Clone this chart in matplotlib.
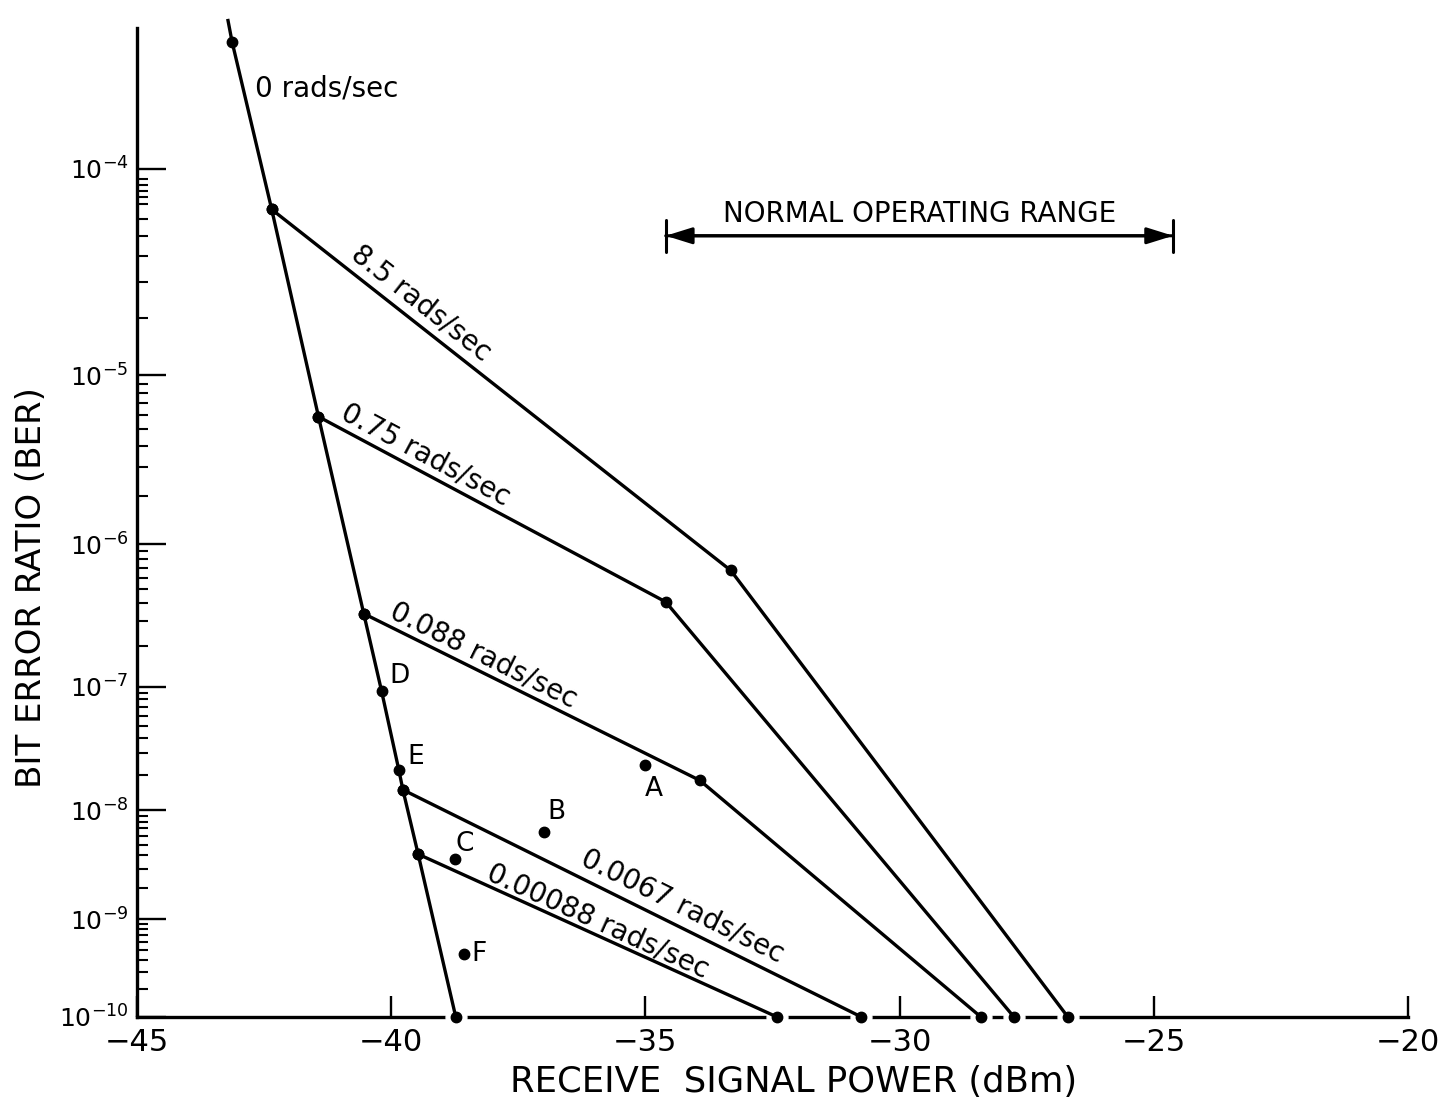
import numpy as np
import matplotlib
matplotlib.use("Agg")
import matplotlib.pyplot as plt
from matplotlib.ticker import FixedLocator, FixedFormatter, NullLocator, NullFormatter

plt.rcParams["font.family"] = ["DejaVu Sans"]
plt.rcParams["mathtext.fontset"] = "dejavusans"

# Zero pointing-error rate; the first entry only carries the line past the top point
zero_dbm = [-43.21, -43.13, -42.35, -41.43, -40.54, -40.19, -39.85, -39.77, -39.47, -38.73]
zero_ber = [3.9e-4, 3.25e-4, 6.6e-5, 5.9e-6, 3.4e-7, 9.3e-8, 2.2e-8, 1.5e-8, 4.1e-9, 1e-10]

# Curves for each pointing-error rate
rate_85_dbm = [-42.35, -33.32, -26.69]
rate_85_ber = [6.6e-5, 6.7e-7, 1e-10]
rate_075_dbm = [-41.43, -34.60, -27.75]
rate_075_ber = [5.9e-6, 4.1e-7, 1e-10]
rate_0088_dbm = [-40.54, -33.93, -28.40]
rate_0088_ber = [3.4e-7, 1.8e-8, 1e-10]
rate_00067_dbm = [-39.77, -30.75]
rate_00067_ber = [1.5e-8, 1e-10]
rate_000088_dbm = [-39.47, -32.41]
rate_000088_ber = [4.1e-9, 1e-10]

rate_labels = ["8.5 rads/sec", "0.75 rads/sec", "0.088 rads/sec",
               "0.0067 rads/sec", "0.00088 rads/sec"]
zero_label = "0 rads/sec"

# Individual measurements
point_names = ["A", "B", "C", "F"]
point_dbm = [-35.0, -37.0, -38.75, -38.57]
point_ber = [2.4e-8, 6.5e-9, 3.7e-9, 4.6e-10]

# D and E sit on the zero-rate curve (indices into zero_dbm)
zero_point_index = [5, 6]
zero_point_names = ["D", "E"]

range_dbm = [-34.6, -24.62]
range_ber = 5e-5
range_label = "NORMAL OPERATING RANGE"

x_ticks = [-45, -40, -35, -30, -25, -20]
y_exponents = [4, 5, 6, 7, 8, 9, 10]


def ber_forward(y):
    y = np.clip(np.asarray(y, dtype=float), 1e-300, 0.5)
    return -np.log10(-np.log10(y))


def ber_inverse(v):
    v = np.asarray(v, dtype=float)
    return 10.0 ** (-(10.0 ** (-v)))


W, H = 1441, 1111
fig = plt.figure(figsize=(W / 100, H / 100), dpi=100)
ax = fig.add_axes([137 / W, 1 - 1017 / H, (1408 - 137) / W, (1017 - 28) / H])

ax.set_yscale("function", functions=(ber_forward, ber_inverse))
ax.set_xlim(-45, -20)
ax.set_ylim(1e-10, 3.66e-4)

for s in ("top", "right"):
    ax.spines[s].set_visible(False)
for s in ("left", "bottom"):
    ax.spines[s].set_linewidth(2.4)

ax.xaxis.set_major_locator(FixedLocator(x_ticks))
ax.xaxis.set_major_formatter(FixedFormatter([f"\u2212{abs(v)}" for v in x_ticks]))
ax.xaxis.set_minor_locator(NullLocator())

ax.yaxis.set_major_locator(FixedLocator([10.0 ** -e for e in y_exponents]))
ax.yaxis.set_major_formatter(FixedFormatter([rf"$10^{{-{e}}}$" for e in y_exponents]))
minor = [m * 10.0 ** -e for e in y_exponents[1:] for m in range(2, 10)]
minor += [7.5e-5, 8.5e-5]
ax.yaxis.set_minor_locator(FixedLocator(sorted(minor)))
ax.yaxis.set_minor_formatter(NullFormatter())

ax.tick_params(axis="y", which="major", direction="in", length=21, width=1.7,
               labelsize=18, pad=6)
ax.tick_params(axis="y", which="minor", direction="in", length=8, width=1.5)
ax.tick_params(axis="x", which="major", direction="in", length=15, width=1.7,
               labelsize=22, pad=8)

line_kw = dict(color="black", lw=2.4, marker="o", ms=7.5, zorder=3, clip_on=False)

ax.plot(zero_dbm, zero_ber, markevery=list(range(1, len(zero_dbm))), **line_kw)

rate_series = [
    (rate_85_dbm, rate_85_ber),
    (rate_075_dbm, rate_075_ber),
    (rate_0088_dbm, rate_0088_ber),
    (rate_00067_dbm, rate_00067_ber),
    (rate_000088_dbm, rate_000088_ber),
]
for xs, ys in rate_series:
    ax.plot(xs, ys, **line_kw)

# break the axis line around the points where curves meet it
end_x = [zero_dbm[-1]] + [xs[-1] for xs, _ in rate_series]
end_y = [zero_ber[-1]] + [ys[-1] for _, ys in rate_series]
ax.plot(end_x, end_y, ls="none", marker="o", ms=15, mfc="white", mec="white",
        zorder=2.7, clip_on=False)

ax.plot(point_dbm, point_ber, ls="none", marker="o", ms=7.5, color="black", zorder=3)

letter_offsets = {"A": (6, -17), "B": (9, 14), "C": (7, 11), "F": (11, 0),
                  "D": (13, 11), "E": (12, 9)}
for name, x, y in zip(point_names, point_dbm, point_ber):
    ax.annotate(name, (x, y), xytext=letter_offsets[name], textcoords="offset points",
                ha="center", va="center", fontsize=19)
for idx, name in zip(zero_point_index, zero_point_names):
    ax.annotate(name, (zero_dbm[idx], zero_ber[idx]), xytext=letter_offsets[name],
                textcoords="offset points", ha="center", va="center", fontsize=19)

ax.text(-42.68, 2.15e-4, zero_label, ha="left", va="center", fontsize=20)

# rate labels laid along the first segment of each curve
label_pos = [0.30, 0.285, 0.335, 0.59, 0.486]
label_gap = [19, 17, 16, 20, 13]
to_data = ax.transData.inverted()
for (xs, ys), text, t, gap in zip(rate_series, rate_labels, label_pos, label_gap):
    p0 = ax.transData.transform((xs[0], ys[0]))
    p1 = ax.transData.transform((xs[1], ys[1]))
    d = p1 - p0
    ang = np.arctan2(d[1], d[0])
    c = p0 + t * d + gap * np.array([-np.sin(ang), np.cos(ang)])
    cx, cy = to_data.transform(c)
    ax.text(cx, cy, text, rotation=np.degrees(ang), rotation_mode="anchor",
            ha="center", va="center", fontsize=20)

# normal operating range bracket
ax.annotate("", xy=(range_dbm[0], range_ber), xytext=(range_dbm[1], range_ber),
            arrowprops=dict(arrowstyle="<|-|>, head_length=0.8, head_width=0.25",
                            color="black", lw=2.2, shrinkA=0, shrinkB=0,
                            mutation_scale=20))
ax.annotate("", xy=(range_dbm[0], range_ber), xytext=(range_dbm[1], range_ber),
            arrowprops=dict(arrowstyle="|-|, widthA=0.58, widthB=0.58",
                            color="black", lw=2.2, shrinkA=0, shrinkB=0,
                            mutation_scale=20))
ax.text(np.mean(range_dbm), 6.3e-5, range_label, ha="center", va="center", fontsize=20)

fig.text(794 / W, 1 - 1082 / H, "RECEIVE  SIGNAL POWER (dBm)", ha="center",
         va="center", fontsize=25.5)
fig.text(32 / W, 1 - 588 / H, "BIT ERROR RATIO (BER)", ha="center", va="center",
         rotation=90, fontsize=24.5)

fig.savefig("out.png", dpi=100, facecolor="white")
